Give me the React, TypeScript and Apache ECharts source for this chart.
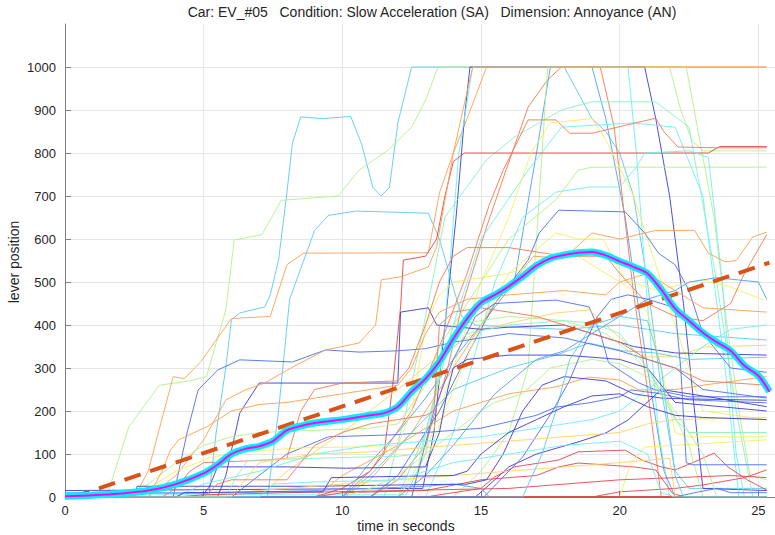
import React, { useEffect, useRef } from "react";
import * as echarts from "echarts";

// ---- colours (jet-like palette of the participant curves) ----
const DB = "#3c3cd6";
const B = "#4d6ff2";
const SB = "#4fa0f5";
const LB = "#5cc8f2";
const C = "#6ff0f0";
const M = "#8cf2c0";
const LG = "#b4f08c";
const Y = "#f0f064";
const GO = "#ffd264";
const O = "#ffa050";
const RO = "#f57850";
const R = "#e64646";

// ---- texts ----
const titleText = "Car: EV_#05\u00a0\u00a0\u00a0Condition: Slow Acceleration (SA)\u00a0\u00a0\u00a0Dimension: Annoyance (AN)";
const xName = "time in seconds";
const yName = "lever position";

// ---- participant curves [time (s), lever position] ----
const p01 = [[0,8],[5.2,8],[5.45,149],[5.8,302],[6.0,412],[6.3,428],[7.2,442],[7.4,470],[7.7,551],[8.0,707],[8.2,823],[8.5,884],[9.3,880],[10.3,885],[10.7,820],[11.1,720],[11.4,700],[11.7,720],[12.0,870],[12.5,1000],[18.0,1000],[18.5,940],[19.0,880],[19.5,850],[20.0,800],[20.5,700],[21.0,500],[21.5,250],[22.0,60],[22.5,20],[25.3,20]];
const p02 = [[0,0],[1.5,0],[2.3,163],[3.4,260],[4.5,270],[5.1,280],[5.8,435],[6.1,598],[7.1,610],[7.8,690],[9.85,700],[10.6,760],[11.65,807],[12.5,860],[13,923],[13.45,1000],[21.8,1000],[22.2,900],[22.6,830],[23.0,805],[25.3,805]];
const p03 = [[0,0],[7.3,0],[7.7,200],[8.1,460],[9.0,620],[9.5,655],[10.5,665],[13.1,660],[13.5,600],[13.9,510],[14.3,420],[14.8,400],[16,395],[18,390],[20,400],[21,390],[22,380],[25.3,365]];
const p04 = [[0,0],[2.5,0],[3.0,60],[3.9,280],[4.3,275],[4.9,315],[6.0,415],[7.4,420],[7.6,460],[8.0,540],[8.6,567],[13.1,568],[13.5,707],[14.0,800],[14.5,880],[15.2,1000],[25.3,1000]];
const p05 = [[0,15],[12.9,20],[13.3,150],[13.7,400],[14.1,650],[14.4,880],[14.6,1000],[20.9,1000],[21.3,880],[21.8,700],[22.3,450],[22.7,200],[23.0,20],[25.3,15]];
const p06 = [[0,5],[12.3,5],[13.0,100],[13.7,400],[14.2,800],[14.7,1000],[20.3,1000],[20.6,800],[21.0,450],[21.4,150],[21.8,0],[25.3,0]];
const p07 = [[0,0],[10,0],[11,80],[12,150],[13,230],[14,320],[15,400],[16.2,500],[17.0,800],[17.5,1000],[19.0,1000],[19.5,880],[20.2,650],[21.0,300],[21.6,60],[22,0],[25.3,0]];
const p08 = [[0,0],[11,0],[12,40],[13,120],[13.8,300],[14.3,442],[15.2,628],[15.9,760],[16.7,907],[17.4,970],[17.9,1000],[19.3,1000],[19.8,860],[20.5,474],[21.0,250],[21.5,0],[25.3,0]];
const p09 = [[0,0],[14,0],[15,60],[16,150],[16.7,300],[17.0,600],[17.4,1000],[22.4,1000],[22.8,860],[23.4,651],[23.8,435],[24.3,200],[24.7,50],[25.3,40]];
const p10 = [[0,0],[11.5,0],[12.3,200],[13,420],[13.7,651],[15.2,784],[16.2,837],[17.9,900],[19,919],[21.3,919],[22.5,860],[23.5,500],[24.2,200],[24.8,0],[25.3,0]];
const p11 = [[0,0],[12,0],[13,150],[14,400],[15,600],[16.7,760],[17.9,860],[20.5,870],[22,860],[23,700],[23.8,300],[24.3,0],[25.3,0]];
const p12 = [[0,0],[9,0],[10,20],[11,60],[11.5,100],[11.8,250],[12.1,442],[12.2,551],[13.0,560],[13.4,600],[13.7,700],[14.0,780],[14.4,800],[23.2,800],[23.6,815],[25.3,815]];
const p13 = [[0,0],[10,0],[11,60],[12.5,200],[13.5,350],[14.5,520],[15.3,680],[15.8,760],[16.7,877],[17.7,877],[18.2,846],[19,846],[21.3,881],[21.6,849],[22.1,814],[23.5,812],[25.3,812]];
const p14 = [[0,0],[12,0],[13,100],[14,300],[15,500],[16,650],[16.8,800],[17.5,870],[19,880],[19.5,830],[20.5,700],[21.5,500],[22.5,300],[23,200],[25.3,180]];
const p15 = [[0,0],[12.5,0],[13.2,200],[14,400],[15,500],[16,600],[17.7,691],[18.5,760],[19,767],[25.3,767]];
const p16 = [[0,0],[13,0],[14,150],[15.5,500],[16.5,650],[17.7,709],[18.9,721],[20,721],[20.6,767],[20.9,800],[22.5,805],[23.2,790],[23.7,500],[24.2,100],[24.5,0],[25.3,0]];
const p17 = [[0,0],[11,0],[12,50],[13.5,200],[14.5,330],[15.5,450],[16.7,551],[17.1,614],[17.8,667],[20.2,663],[20.9,614],[21.4,567],[22,540],[22.5,480],[23,380],[24,300],[25.3,290]];
const p18 = [[0,0],[10,0],[11,40],[12.5,150],[14,300],[15.5,450],[16.9,560],[18,555],[19,614],[20,600],[21.3,620],[22.7,620],[23.2,567],[23.8,547],[24.2,550],[24.8,605],[25.3,616]];
const p19 = [[0,0],[12,0],[13,80],[14,250],[15,400],[16,520],[17.7,614],[18.5,600],[19.4,600],[20.2,505],[21.3,481],[23.0,505],[24,488],[25.2,458]];
const p20 = [[0,0],[12.5,0],[13.3,200],[14,320],[14.8,420],[15.5,450],[17.7,458],[18.9,442],[19.3,381],[19.6,312],[20.7,265],[21.3,249],[22.5,233],[25.3,233]];
const p21 = [[0,0],[6,0],[7,50],[8,100],[9.5,140],[12,145],[15,160],[17,190],[17.7,209],[18.9,219],[20,233],[20.4,249],[21.3,242],[22.5,226],[25.3,219]];
const p22 = [[0,0],[14.8,0],[15.5,40],[16,70],[17,100],[18.5,128],[19.5,149],[20.3,179],[20.8,209],[21.5,250],[22.5,240],[23.5,230],[25.3,210]];
const p23 = [[0,0],[13,0],[14,10],[15,20],[15.5,47],[16.2,70],[17.8,86],[18.5,105],[20.2,109],[20.8,86],[21.5,70],[22,63],[22.6,79],[23.4,102],[23.9,70],[24.6,40],[25.3,16]];
const p24 = [[0,0],[9,0],[10,10],[13,15],[15,40],[17,50],[17.8,70],[18.5,79],[20.5,70],[21.3,63],[21.9,9],[22.3,0],[25.3,0]];
const p25 = [[0,0],[19,0],[20,12],[22,20],[23,28],[24.5,45],[25.3,63]];
const p26 = [[0,0],[20,0],[20.4,79],[20.9,116],[25.3,133]];
const p27 = [[0,0],[9,0],[10,50],[12,120],[14,200],[16,240],[17.7,256],[18.9,279],[20,272],[20.7,249],[22,250],[23,260],[25.3,280]];
const p28 = [[0,0],[7,0],[8,60],[10,150],[12,250],[13.5,330],[15,390],[17.7,428],[18.9,435],[20.1,365],[20.8,326],[21.9,326],[23.1,349],[25.3,353]];
const p29 = [[0,0],[10,0],[11,50],[12.5,150],[14,250],[16,300],[17.7,330],[18.9,358],[20.1,340],[21.3,335],[22.5,320],[25.3,325]];
const p30 = [[0,0],[5.5,0],[5.8,50],[6.3,195],[7,265],[12.0,265],[12.1,430],[13.1,440],[13.4,400],[15,390],[16,395],[18,400],[19.5,370],[20.5,350],[22,335],[25.3,330]];
const p31 = [[0,0],[3.9,0],[4.4,149],[4.8,249],[5.5,295],[6.3,319],[8.2,314],[9.4,342],[10.6,337],[12,340],[13,345],[14,360],[16,380],[18,370],[20,340],[22,300],[23,250],[25.3,230]];
const p32 = [[0,0],[3,0],[4,50],[5,133],[5.8,226],[6.5,249],[7.2,265],[8.2,302],[9.4,342],[10.6,358],[11.2,400],[11.4,505],[12.1,512],[13.1,535],[13.4,581],[14,800],[14.7,1000],[25.3,1000]];
const p33 = [[0,0],[2,0],[3,30],[4,80],[5,120],[6,140],[7,150],[9,155],[11,160],[12,170],[13,260],[13.5,350],[14,400],[16,420],[18,410],[19.5,380],[20.5,330],[21.5,250],[22.5,120],[23,0],[25.3,0]];
const p34 = [[0,0],[2,0],[3,20],[4,60],[5.3,93],[6.5,105],[8.4,114],[10.1,116],[12,120],[12.5,200],[13,400],[13.5,470],[14,500],[16,520],[17,540],[18,560],[18.5,560],[19.5,520],[20.5,480],[21,430],[21.5,300],[22,150],[22.5,140],[25.3,140]];
const p35 = [[0,0],[4.9,0],[5.2,23],[5.5,70],[8,70],[10.1,67],[13,70],[13.5,150],[13.8,250],[14.0,300],[14.5,320],[16,330],[18,330],[20,320],[21,300],[22,220],[25.3,200]];
const p36 = [[0,0],[4,0],[5,30],[7,60],[9,100],[11,120],[13,130],[15,140],[17,160],[19,180],[20,200],[21,250],[22,300],[23,350],[24,390],[25.3,400]];
const p37 = [[0,0],[3.5,0],[4,20],[4.5,60],[5,80],[7,85],[8,90],[8.5,200],[9,250],[10,265],[12,270],[12.4,300],[13,400],[13.5,500],[14,560],[14.5,580],[16,580],[18,560],[19.5,560],[20,520],[21,450],[22,420],[23,410],[24,450],[24.5,520],[25.3,610]];
const p38 = [[0,10],[6,10],[7,12],[9,15],[11,20],[13,25],[14,30],[15,20],[15.3,0],[25.3,0]];
const p39 = [[0,0],[2.5,0],[2.6,25],[5,25],[9,25],[12,28],[14.5,30],[15.2,40],[15.8,100],[16.5,200],[17.2,260],[18,280],[19.5,270],[20.5,240],[21.5,230],[22.5,228],[25.3,225]];
const p40 = [[0,0],[22,0],[22.7,10],[23.5,20],[24,10],[25.3,10]];
const p41 = [[0,0],[5,0],[6,10],[8,20],[10,30],[12,40],[14,50],[16,60],[18,70],[20,80],[21.8,90],[22,0],[25.3,0]];
const p42 = [[0,0],[10,0],[11,20],[12,50],[13,100],[14,150],[15,200],[15.5,220],[16.5,240],[17.5,300],[19,320],[20,310],[21,280],[22,200],[23,100],[23.5,0],[25.3,0]];
const p43 = [[0,0],[25.3,0]];
const p44 = [[0,0],[4,0],[5,5],[8,10],[12,15],[16,20],[18,30],[20,40],[22,45],[24,50],[25.3,45]];
const p45 = [[0,0],[3,0],[3.5,60],[3.8,109],[4.1,133],[5.1,163],[6,200],[7,215],[8,220],[9,230],[10,240],[11,250],[12,260],[12.5,300],[13,380],[13.5,430],[14.5,460],[16,470],[18,480],[19.5,470],[20,500],[21,520],[22,480],[23,440],[25.3,430]];
const p46 = [[0,0],[12,0],[13,50],[14,120],[15.5,240],[17,320],[18,340],[19,380],[20,420],[21,460],[22,480],[22.5,500],[23.5,510],[25.0,500],[25.3,460]];
const p47 = [[0,0],[16.5,0],[17.2,100],[17.7,200],[18.2,320],[19,400],[20,420],[21,410],[21.5,300],[22,50],[22.3,0],[25.3,0]];
const p48 = [[0,0],[15.1,0],[16.0,60],[16.5,93],[17.6,202],[18.2,272],[18.7,350],[19.2,420],[19.7,460],[20.3,470],[21,460],[22,440],[22.2,300],[22.4,80],[22.6,75],[25.3,75]];
const p49 = [[0,0],[5.8,0],[6.2,50],[6.6,85],[9,90],[12,95],[12.8,100],[13.2,200],[13.6,320],[14.5,380],[16,400],[18,410],[19,405],[20,380],[21,300],[22,180],[22.5,150],[25.3,150]];
const p50 = [[0,0],[6,0],[6.5,40],[7,80],[9,100],[11,105],[12,110],[13,115],[14,120],[16,130],[18,140],[20,150],[21,170],[22,180],[25.3,185]];
const p51 = [[0,0],[4,0],[4.3,10],[7,12],[9.3,12],[9.6,45],[12,48],[14,50],[14.5,60],[15,100],[16,150],[17,180],[18,210],[19,235],[20,240],[21,210],[22,190],[23,185],[25.3,180]];
const p52 = [[0,0],[5,0],[5.5,30],[6,40],[8,40],[8.5,80],[9,120],[10,150],[11,170],[12,180],[13,190],[13.3,200],[13.5,400],[14,430],[15,440],[16,430],[17,420],[18,400],[19,380],[20,360],[21,320],[22,300],[23,270],[25.3,260]];
const p53 = [[0,0],[7,0],[7.5,30],[9,35],[11,38],[12,40],[13,60],[14,80],[15,90],[16,100],[17,110],[18,120],[19,125],[20,130],[21,100],[21.5,10],[22,0],[25.3,0]];

const participants = [p01,p02,p03,p04,p05,p06,p07,p08,p09,p10,p11,p12,p13,p14,p15,p16,p17,p18,p19,p20,p21,p22,p23,p24,p25,p26,p27,p28,p29,p30,p31,p32,p33,p34,p35,p36,p37,p38,p39,p40,p41,p42,p43,p44,p45,p46,p47,p48,p49,p50,p51,p52,p53];
const participantColors = [LB,LG,LB,O,DB,C,SB,RO,LG,M,C,R,RO,Y,LG,C,B,O,Y,B,B,DB,R,R,R,Y,O,GO,LB,DB,B,O,LG,Y,DB,C,RO,SB,DB,B,GO,LG,R,R,O,SB,LB,B,M,GO,DB,RO,C];

// ---- mean curve ----
const meanT = [0,1,2,3,4,5,5.5,6,6.5,7,7.5,8,8.5,9,9.5,10,10.5,11,11.5,12,12.5,13,13.5,14,14.5,15,15.5,16,16.5,17,17.5,18,18.5,19,19.5,20,20.5,21,21.5,22,22.5,23,23.5,24,24.5,25,25.4];
const meanV = [2,4,8,15,30,55,75,100,112,118,130,155,165,172,176,180,185,190,195,210,245,275,315,368,415,452,470,490,513,538,555,563,568,570,562,548,535,520,482,438,410,382,360,340,305,282,245];

// ---- linear fit ----
const fitT = [0.3, 25.4];
const fitV = [0, 545];

// ---- axes ----
const xMin = 0;
const xMax = 25.6;
const xStep = 5;
const yMin = 0;
const yMax = 1100;
const yStep = 100;

const FONT = "'Liberation Sans', Arial, Helvetica, sans-serif";
const TXT = "#262626";
const AX = "#808080";

export default function App() {
  const ref = useRef<HTMLDivElement>(null);

  useEffect(() => {
    document.body.style.margin = "0";
    if (!ref.current) return;
    const chart = echarts.init(ref.current, undefined, { renderer: "svg" });

    const series: any[] = participants.map((d, i) => ({
      type: "line",
      data: d,
      showSymbol: false,
      symbol: "none",
      silent: true,
      z: 2,
      lineStyle: { width: d === p43 ? 2 : 1, color: participantColors[i], opacity: 0.9 },
    }));

    series.push({
      type: "line",
      data: fitT.map((t, i) => [t, fitV[i]]),
      showSymbol: false,
      symbol: "none",
      silent: true,
      z: 4,
      lineStyle: { width: 4, color: "#d95319", type: [17, 10] },
    });
    const meanData = meanT.map((t, i) => [t, meanV[i]]);
    series.push({
      type: "line",
      data: meanData,
      smooth: 0.3,
      showSymbol: false,
      symbol: "none",
      silent: true,
      z: 5,
      lineStyle: { width: 7, color: "#00f0f8" },
    });
    series.push({
      type: "line",
      data: meanData,
      smooth: 0.3,
      showSymbol: false,
      symbol: "none",
      silent: true,
      z: 6,
      lineStyle: { width: 2, color: "#ff00ff" },
    });

    chart.setOption({
      animation: false,
      backgroundColor: "#ffffff",
      grid: { left: 65, right: 0, top: 24, bottom: 38, containLabel: false },
      xAxis: {
        type: "value",
        min: xMin,
        max: xMax,
        interval: xStep,
        axisLine: { show: true, lineStyle: { color: AX, width: 1 } },
        axisTick: { show: true, inside: true, length: 6, lineStyle: { color: AX } },
        axisLabel: { color: TXT, fontSize: 13, fontFamily: FONT, margin: 7, showMaxLabel: false },
        splitLine: { show: true, lineStyle: { color: "#e6e6e6", width: 1 } },
      },
      yAxis: {
        type: "value",
        min: yMin,
        max: yMax,
        interval: yStep,
        axisLine: { show: true, lineStyle: { color: AX, width: 1 } },
        axisTick: { show: true, inside: true, length: 6, lineStyle: { color: AX } },
        axisLabel: {
          color: TXT,
          fontSize: 13,
          fontFamily: FONT,
          margin: 9,
          showMaxLabel: false,
          formatter: (v: number) => String(v),
        },
        splitLine: { show: true, showMaxLine: false, lineStyle: { color: "#e6e6e6", width: 1 } },
      },
      graphic: [
        {
          type: "text",
          x: 432,
          y: 12,
          silent: true,
          style: {
            text: titleText,
            fill: TXT,
            fontSize: 14,
            fontFamily: FONT,
            align: "center",
            verticalAlign: "middle",
            textAlign: "center",
            textVerticalAlign: "middle",
          },
        },
        {
          type: "text",
          x: 406,
          y: 526,
          silent: true,
          style: {
            text: xName,
            fill: TXT,
            fontSize: 14,
            fontFamily: FONT,
            align: "center",
            verticalAlign: "middle",
            textAlign: "center",
            textVerticalAlign: "middle",
          },
        },
        {
          type: "text",
          x: 14,
          y: 262,
          rotation: Math.PI / 2,
          silent: true,
          style: {
            text: yName,
            fill: TXT,
            fontSize: 14,
            fontFamily: FONT,
            align: "center",
            verticalAlign: "middle",
            textAlign: "center",
            textVerticalAlign: "middle",
          },
        },
      ],
      series,
    });

    return () => chart.dispose();
  }, []);

  return <div ref={ref} style={{ width: 775, height: 535, overflow: "hidden" }} />;
}
